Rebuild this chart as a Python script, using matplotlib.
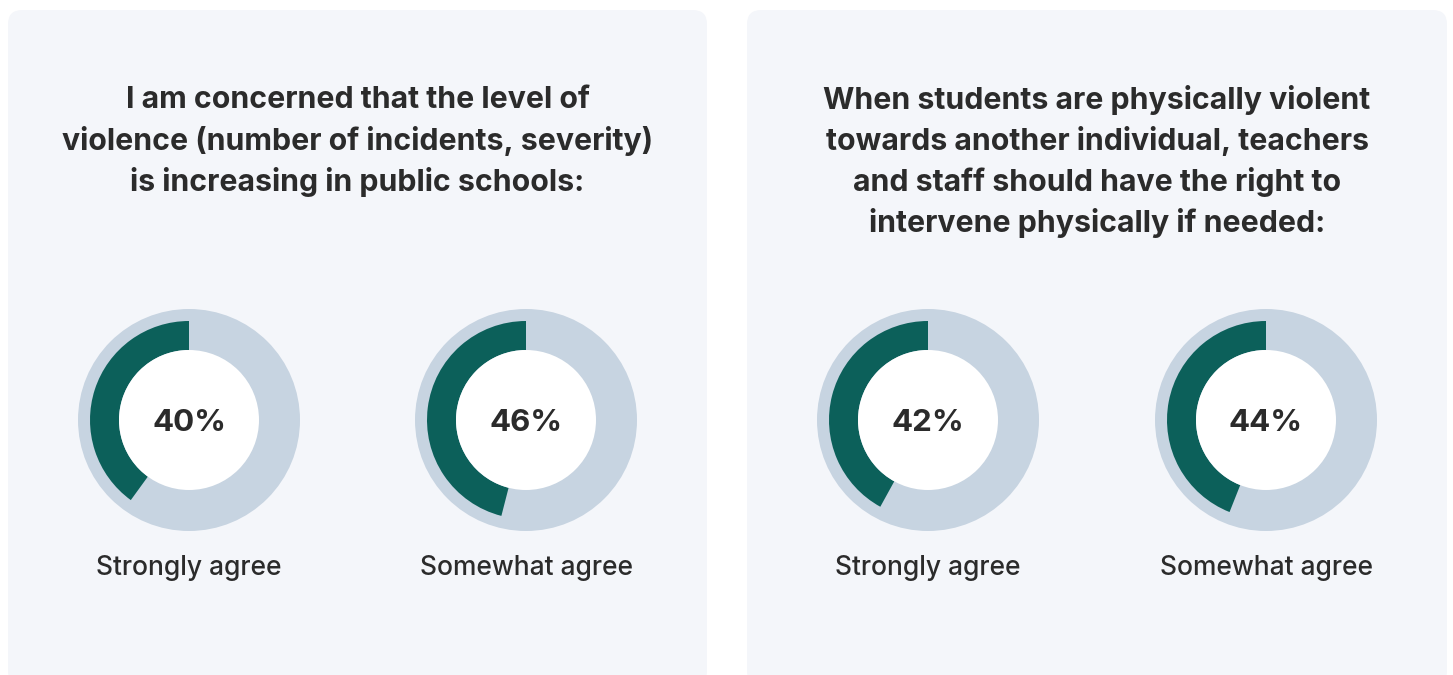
import numpy as np
import matplotlib.pyplot as plt
from matplotlib.patches import FancyBboxPatch, Circle

plt.rcParams['font.family'] = ['Inter', 'DejaVu Sans']

# Datos
titles = [
    ["I am concerned that the level of",
     "violence (number of incidents, severity)",
     "is increasing in public schools:"],
    ["When students are physically violent",
     "towards another individual, teachers",
     "and staff should have the right to",
     "intervene physically if needed:"],
]
categories = ["Strongly agree", "Somewhat agree"]
values = [[40, 46], [42, 44]]

teal = "#0c605a"
ring = "#c7d4e1"
panel_bg = "#f4f6fa"
text_col = "#2b2b2b"

W, H = 1453, 675
fig = plt.figure(figsize=(W / 100, H / 100), dpi=100)
fig.patch.set_facecolor("white")

# eje de fondo en pixeles
bg = fig.add_axes([0, 0, 1, 1])
bg.set_xlim(0, W)
bg.set_ylim(H, 0)
bg.axis("off")

panel_x = [(8, 707), (747, 1447)]
donut_cx = [(189, 526), (928, 1266)]
donut_cy = 420
r_out = 111

for p in range(2):
    x0, x1 = panel_x[p]
    bg.add_patch(FancyBboxPatch((x0, 10), x1 - x0, 675, boxstyle="round,pad=0,rounding_size=14",
                                facecolor=panel_bg, edgecolor="none"))
    xc = (x0 + x1) / 2
    for i, line in enumerate(titles[p]):
        bg.text(xc, 100 + 41 * i, line, ha="center", va="center", fontsize=21.8,
                fontweight="bold", color=text_col)

    for k in range(2):
        cx = donut_cx[p][k]
        v = values[p][k]
        ax = fig.add_axes([(cx - r_out) / W, 1 - (donut_cy + r_out) / H, 2 * r_out / W, 2 * r_out / H])
        ax.set_xlim(-1, 1)
        ax.set_ylim(-1, 1)
        ax.set_aspect("equal")
        ax.axis("off")
        ax.add_patch(Circle((0, 0), 1, facecolor=ring, edgecolor="none"))
        ax.pie([v, 100 - v], colors=[teal, "none"], startangle=90, counterclock=True,
               radius=99 / 111, wedgeprops=dict(width=29 / 111, edgecolor="none"))
        ax.add_patch(Circle((0, 0), 70 / 111, facecolor="white", edgecolor="none", zorder=3))
        ax.set_xlim(-1, 1)
        ax.set_ylim(-1, 1)
        ax.text(0, -0.03, f"{v}%", ha="center", va="center", fontsize=22.5,
                fontweight="bold", color=text_col, zorder=5)
        bg.text(cx, 568, categories[k], ha="center", va="center", fontsize=19,
                fontweight="medium", color=text_col)

fig.savefig("out.png", dpi=100, facecolor="white")
